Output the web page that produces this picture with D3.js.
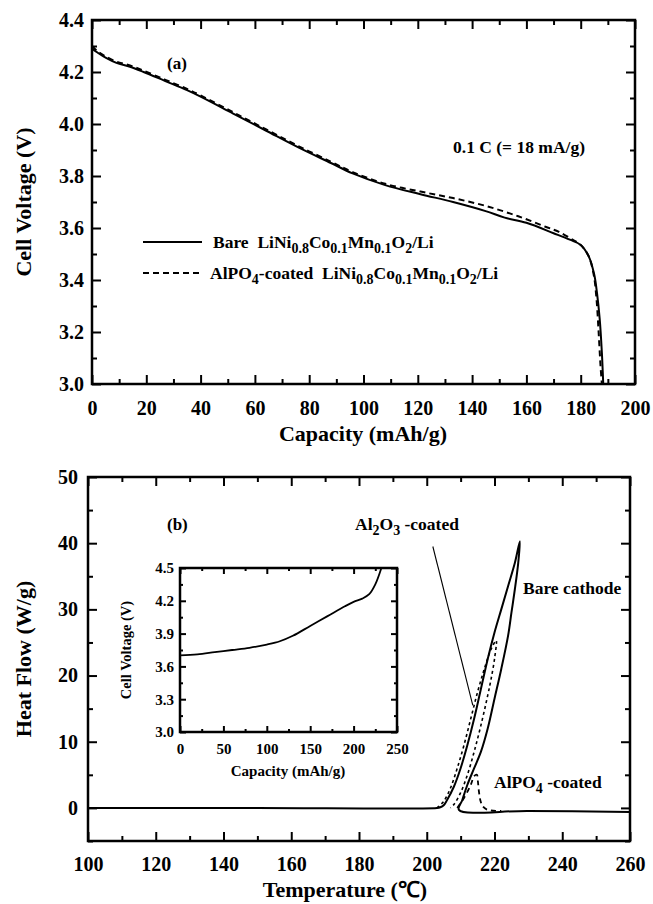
<!DOCTYPE html>
<html>
<head>
<meta charset="utf-8">
<script src="https://cdn.jsdelivr.net/npm/d3@7"></script>
<style>
  body { margin: 0; background: #fff; }
  svg text { font-family: 'Liberation Serif', 'Times New Roman', serif; font-weight: bold; fill: #000; white-space: pre; }
  .frame { fill: none; stroke: #000; stroke-width: 2.5; }
  .tick line { stroke: #000; stroke-width: 2; }
  .domain { display: none; }
</style>
</head>
<body>
<svg id="chart" width="653" height="904"></svg>
<script>
// (a) discharge curves, capacity (mAh/g) vs cell voltage (V)
const bareCap = [0, 2, 5, 9, 14, 19, 27, 35, 40, 52, 64, 76, 88, 96, 108, 121, 133, 145, 152, 160, 170, 176, 180, 183, 185, 186, 187, 187.8, 188.3];
const bareV   = [4.29, 4.275, 4.255, 4.235, 4.22, 4.20, 4.165, 4.13, 4.105, 4.04, 3.975, 3.91, 3.85, 3.81, 3.765, 3.73, 3.70, 3.665, 3.64, 3.62, 3.58, 3.555, 3.535, 3.49, 3.42, 3.35, 3.25, 3.12, 3.0];
const coatCap = [0, 2, 5, 9, 14, 19, 27, 35, 40, 52, 64, 76, 88, 96, 108, 121, 133, 145, 157, 167, 172, 177, 180, 183, 184.8, 185.8, 186.6, 187.3, 187.8];
const coatV   = [4.30, 4.28, 4.26, 4.24, 4.225, 4.205, 4.17, 4.135, 4.11, 4.045, 3.98, 3.915, 3.855, 3.815, 3.77, 3.74, 3.715, 3.685, 3.645, 3.605, 3.585, 3.555, 3.535, 3.49, 3.42, 3.33, 3.2, 3.07, 3.0];

// (b) DSC, temperature (C) vs heat flow (W/g)
const bareT  = [100, 150, 203, 204, 205, 206, 208, 210, 212, 214, 216, 218, 220, 222, 224, 226, 227.5, 227, 226, 225, 224, 222, 220, 218, 216, 214, 212, 210.5, 209.5, 230, 260];
const bareHF = [0, 0, 0, 0.1, 0.4, 1.2, 3.2, 6, 9.5, 13.5, 18, 22.5, 26.5, 30, 33.5, 37, 40.3, 37, 33, 29.5, 26, 21, 16.5, 12, 8.5, 6, 3.5, 1.2, -0.3, -0.45, -0.6];
const aloT   = [203, 205, 207, 209, 211, 213, 215, 217, 219, 220.5, 220, 219, 218, 216, 214, 212, 210, 208, 207];
const aloHF  = [0, 1, 3, 6, 9.5, 13.5, 17.5, 21, 24, 25.3, 22.5, 19.5, 17, 12.5, 8.5, 5, 2.3, 0.5, 0];
const apoT   = [209, 211, 213, 214, 214.8, 215.1, 215.4, 215.9, 216.6, 218, 222];
const apoHF  = [0, 1.5, 3.5, 4.8, 5, 4, 2.5, 1, 0.2, -0.3, -0.45];
const leaderT  = [201.8, 213.6];
const leaderHF = [39.5, 15.5];

// inset, capacity (mAh/g) vs cell voltage (V)
const insetCap = [0, 20, 40, 60, 80, 100, 115, 130, 150, 170, 190, 200, 210, 218, 225, 232];
const insetV   = [3.70, 3.71, 3.73, 3.75, 3.77, 3.80, 3.83, 3.88, 3.97, 4.06, 4.15, 4.19, 4.22, 4.26, 4.35, 4.5];

const svg = d3.select('#chart');

// text with _{sub} parts
function rich(g, str, x, y, size, anchor) {
  let t = g.append('text').attr('x', x).attr('y', y).attr('font-size', size).attr('text-anchor', anchor || 'start');
  let parts = str.split(/(_\{[^}]*\})/);
  let shift = 0;
  parts.forEach(p => {
    if (!p) return;
    if (p.startsWith('_{')) {
      t.append('tspan').attr('dy', size * 0.3 - shift).attr('font-size', size * 0.8).text(p.slice(2, -1));
      shift = size * 0.3;
    } else {
      t.append('tspan').attr('dy', -shift).text(p);
      shift = 0;
    }
  });
  return t;
}

function range(a, b, s) { let r = []; for (let v = a; v <= b + 1e-9; v += s) r.push(+v.toFixed(3)); return r; }

function frame(g, x, y, xMaj, xMin, yMaj, yMin, big, fmtX, fmtY, padX, padY, fs) {
  let [x0, x1] = x.range(), [y0, y1] = y.range();
  let w = x1 - x0, h = y0 - y1;
  let L = big, l = Math.round(big * 0.55);
  g.append('g').attr('transform', `translate(0,${y0})`).call(d3.axisBottom(x).tickValues(xMaj).tickSize(-L).tickPadding(padX).tickFormat(fmtX))
    .selectAll('text').attr('font-size', fs);
  g.append('g').attr('transform', `translate(0,${y0})`).call(d3.axisBottom(x).tickValues(xMin).tickSize(-l).tickFormat(''));
  g.append('g').attr('transform', `translate(0,${y1})`).call(d3.axisTop(x).tickValues(xMaj).tickSize(-L).tickFormat(''));
  g.append('g').attr('transform', `translate(0,${y1})`).call(d3.axisTop(x).tickValues(xMin).tickSize(-l).tickFormat(''));
  g.append('g').attr('transform', `translate(${x0},0)`).call(d3.axisLeft(y).tickValues(yMaj).tickSize(-L).tickPadding(padY).tickFormat(fmtY))
    .selectAll('text').attr('font-size', fs);
  g.append('g').attr('transform', `translate(${x0},0)`).call(d3.axisLeft(y).tickValues(yMin).tickSize(-l).tickFormat(''));
  g.append('g').attr('transform', `translate(${x1},0)`).call(d3.axisRight(y).tickValues(yMaj).tickSize(-L).tickFormat(''));
  g.append('g').attr('transform', `translate(${x1},0)`).call(d3.axisRight(y).tickValues(yMin).tickSize(-l).tickFormat(''));
  g.selectAll('.tick text').attr('font-family', null);
  g.append('rect').attr('class', 'frame').attr('x', x0).attr('y', y1).attr('width', w).attr('height', h);
}

function drawLine(g, xs, ys, x, y, dash, sw) {
  let line = d3.line().x(d => x(d[0])).y(d => y(d[1])).curve(d3.curveCatmullRom.alpha(0.5));
  g.append('path').datum(xs.map((v, i) => [v, ys[i]]))
    .attr('d', line).attr('fill', 'none').attr('stroke', '#000')
    .attr('stroke-width', sw).attr('stroke-dasharray', dash);
}

// ---------- panel (a)
const xa = d3.scaleLinear().domain([0, 200]).range([92, 635]);
const ya = d3.scaleLinear().domain([3.0, 4.4]).range([384, 20]);
const ga = svg.append('g');
drawLine(ga, bareCap, bareV, xa, ya, null, 2);
drawLine(ga, coatCap, coatV, xa, ya, '6,4', 2);
frame(ga, xa, ya, range(0, 200, 20), range(10, 190, 20), range(3.0, 4.4, 0.2), range(3.1, 4.3, 0.2), 9,
  d3.format('d'), d3.format('.1f'), 17, 8, 20);

ga.append('text').attr('x', 167).attr('y', 69).attr('font-size', 17).text('(a)');
ga.append('text').attr('x', 453).attr('y', 153).attr('font-size', 17.5).text('0.1 C (= 18 mA/g)');
ga.append('line').attr('x1', 143).attr('x2', 202).attr('y1', 242).attr('y2', 242).attr('stroke', '#000').attr('stroke-width', 2);
ga.append('line').attr('x1', 143).attr('x2', 202).attr('y1', 273).attr('y2', 273).attr('stroke', '#000').attr('stroke-width', 2).attr('stroke-dasharray', '6,4');
rich(ga, 'Bare  LiNi_{0.8}Co_{0.1}Mn_{0.1}O_{2}/Li', 213, 248, 17.5);
rich(ga, 'AlPO_{4}-coated  LiNi_{0.8}Co_{0.1}Mn_{0.1}O_{2}/Li', 210, 279, 17.5);
ga.append('text').attr('transform', 'translate(31,202) rotate(-90)').attr('text-anchor', 'middle').attr('font-size', 22).text('Cell Voltage (V)');
ga.append('text').attr('x', 363).attr('y', 441).attr('text-anchor', 'middle').attr('font-size', 22).text('Capacity (mAh/g)');

// ---------- panel (b)
const xb = d3.scaleLinear().domain([100, 260]).range([88, 630]);
const yb = d3.scaleLinear().domain([-5, 50]).range([841, 477]);
const gb = svg.append('g');
drawLine(gb, bareT, bareHF, xb, yb, null, 2);
drawLine(gb, aloT, aloHF, xb, yb, '3,3', 1.6);
drawLine(gb, apoT, apoHF, xb, yb, '5,4', 1.8);
gb.append('line').attr('x1', xb(leaderT[0])).attr('y1', yb(leaderHF[0])).attr('x2', xb(leaderT[1])).attr('y2', yb(leaderHF[1]))
  .attr('stroke', '#000').attr('stroke-width', 1.1);
frame(gb, xb, yb, range(100, 260, 20), range(110, 250, 20), range(0, 50, 10), range(-5, 45, 10), 9,
  d3.format('d'), d3.format('d'), 16, 10, 20);

gb.append('text').attr('x', 167).attr('y', 530).attr('font-size', 17).text('(b)');
rich(gb, 'Al_{2}O_{3} -coated', 355, 530, 17.5);
gb.append('text').attr('x', 523).attr('y', 594).attr('font-size', 17.5).text('Bare cathode');
rich(gb, 'AlPO_{4} -coated', 494, 788, 17.5);
gb.append('text').attr('transform', 'translate(31,659) rotate(-90)').attr('text-anchor', 'middle').attr('font-size', 22).text('Heat Flow (W/g)');
gb.append('text').attr('x', 345).attr('y', 897).attr('text-anchor', 'middle').attr('font-size', 22).text('Temperature (\u2103)');

// ---------- inset
const xi = d3.scaleLinear().domain([0, 250]).range([180, 397]);
const yi = d3.scaleLinear().domain([3.0, 4.5]).range([732, 568]);
const gi = svg.append('g');
gi.append('rect').attr('x', 180).attr('y', 568).attr('width', 217).attr('height', 164).attr('fill', '#fff');
drawLine(gi, insetCap, insetV, xi, yi, null, 1.8);
frame(gi, xi, yi, range(0, 250, 50), range(25, 225, 50), range(3.0, 4.5, 0.3), range(3.15, 4.35, 0.3), 6,
  d3.format('d'), d3.format('.1f'), 11, 6, 15);
gi.selectAll('.frame').attr('stroke-width', 2);
gi.selectAll('.tick line').attr('stroke-width', 1.5);
gi.append('text').attr('transform', 'translate(131,650) rotate(-90)').attr('text-anchor', 'middle').attr('font-size', 14.5).text('Cell Voltage (V)');
gi.append('text').attr('x', 288).attr('y', 776).attr('text-anchor', 'middle').attr('font-size', 15).text('Capacity (mAh/g)');
</script>
</body>
</html>
